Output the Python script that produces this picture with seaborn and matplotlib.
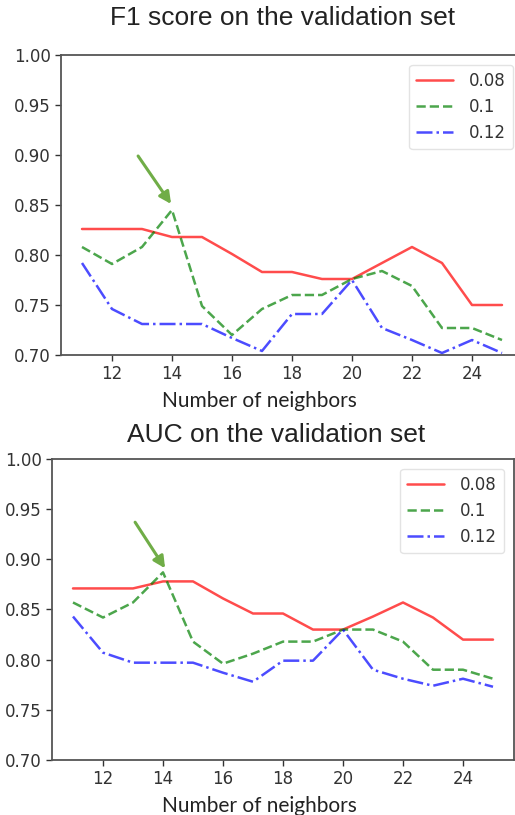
import numpy as np
import pandas as pd
import matplotlib
matplotlib.use("Agg")
import matplotlib.pyplot as plt
import seaborn as sns

# Nombre de voisins (axe x)
neighbors = list(range(11, 26))
thresholds = ["0.08", "0.1", "0.12"]

# F1 score sur le jeu de validation
f1_008 = [0.826, 0.826, 0.826, 0.818, 0.818, 0.801, 0.783, 0.783, 0.776, 0.776, 0.792, 0.808, 0.792, 0.750, 0.750]
f1_010 = [0.808, 0.791, 0.808, 0.845, 0.749, 0.720, 0.746, 0.760, 0.760, 0.776, 0.784, 0.769, 0.727, 0.727, 0.715]
f1_012 = [0.792, 0.746, 0.731, 0.731, 0.731, 0.717, 0.704, 0.741, 0.741, 0.775, 0.727, 0.715, 0.702, 0.715, 0.702]

# AUC sur le jeu de validation
auc_008 = [0.871, 0.871, 0.871, 0.878, 0.878, 0.861, 0.846, 0.846, 0.830, 0.830, 0.843, 0.857, 0.842, 0.820, 0.820]
auc_010 = [0.857, 0.842, 0.857, 0.887, 0.818, 0.796, 0.806, 0.818, 0.818, 0.830, 0.830, 0.818, 0.790, 0.790, 0.781]
auc_012 = [0.843, 0.807, 0.797, 0.797, 0.797, 0.787, 0.778, 0.799, 0.799, 0.830, 0.790, 0.781, 0.774, 0.781, 0.773]

# Flèches (début, pointe) en coordonnées de données
f1_arrow = ((12.87, 0.899), (13.97, 0.851))
auc_arrow = ((13.07, 0.937), (14.07, 0.891))

sns.set_style("white")
plt.rcParams['font.family'] = ['DejaVu Sans']

colors = ["red", "green", "blue"]
styles = ["-", "--", "-."]


def draw_panel(ax, series, arrow):
    for values, thr, col, ls in zip(series, thresholds, colors, styles):
        df = pd.DataFrame({"k": neighbors, "score": values})
        sns.lineplot(data=df, x="k", y="score", ax=ax, color=col, linestyle=ls,
                     linewidth=1.8, alpha=0.7, label=thr)
    ax.set_ylim(0.70, 1.00)
    ax.set_xlim(10.3, 25.7)
    ax.set_yticks(np.arange(0.70, 1.001, 0.05))
    ax.set_yticklabels([f"{v:.2f}" for v in np.arange(0.70, 1.001, 0.05)])
    ax.set_xticks(range(12, 26, 2))
    ax.set_ylabel("")
    ax.tick_params(axis="both", labelsize=12, colors="#333333", length=4, width=1,
                   bottom=True, left=True)
    for s in ax.spines.values():
        s.set_color("#555555")
        s.set_linewidth(1.3)
    leg = ax.legend(loc="upper right", fontsize=12, handlelength=2.2, handletextpad=1.0,
                    labelspacing=0.5, borderaxespad=0.6, frameon=True)
    leg.get_frame().set_edgecolor("#dddddd")
    for t in leg.get_texts():
        t.set_color("#333333")
    ax.annotate("", xy=arrow[1], xytext=arrow[0],
                arrowprops=dict(arrowstyle="-|>,head_length=0.7,head_width=0.35",
                                color="#70ad47", lw=2.2, shrinkA=0, shrinkB=0))


W, H = 515, 815
fig = plt.figure(figsize=(W / 100, H / 100), dpi=100)

ax1 = fig.add_axes([61 / W, (H - 355) / H, 462 / W, 300 / H])
draw_panel(ax1, [f1_008, f1_010, f1_012], f1_arrow)
ax1.set_xlabel("Number of neighbors", fontsize=15, family=["Lato", "DejaVu Sans"], color="#222222")
ax1.xaxis.set_label_coords((259 - 61) / 462, (355 - 401) / 300)
ax1.xaxis.label.set_va("center")

ax2 = fig.add_axes([52 / W, (H - 760) / H, 462 / W, 301 / H])
draw_panel(ax2, [auc_008, auc_010, auc_012], auc_arrow)
ax2.set_xlabel("Number of neighbors", fontsize=15, family=["Lato", "DejaVu Sans"], color="#222222")
ax2.xaxis.set_label_coords((259 - 52) / 462, (760 - 806) / 301)
ax2.xaxis.label.set_va("center")

fig.text(283 / W, 1 - 18 / H, "F1 score on the validation set", ha="center", va="center",
         fontsize=19, family=["Liberation Sans", "DejaVu Sans"], color="#222222")
fig.text(276 / W, 1 - 435 / H, "AUC on the validation set", ha="center", va="center",
         fontsize=19, family=["Liberation Sans", "DejaVu Sans"], color="#222222")

fig.savefig("out.png", dpi=100)
